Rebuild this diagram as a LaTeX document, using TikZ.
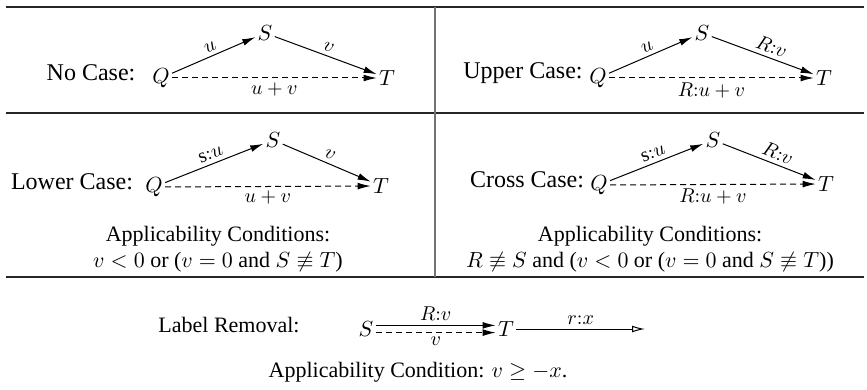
\documentclass[tikz,border=0pt]{standalone}
\usepackage{fontspec}
\setmainfont{Liberation Serif}
\usetikzlibrary{arrows.meta}
\begin{document}
\begin{tikzpicture}[x=0.5pt,y=-0.5pt,
  font=\fontsize{11}{13}\selectfont,
  gridline/.style={line width=0.8pt, draw=black!85},
  vgrid/.style={line width=1pt, draw=black!55},
  vtx/.style={inner sep=1pt},
  arr/.style={-{Latex[length=6.5pt,width=3.4pt]}, line width=0.5pt},
  dsh/.style={arr, dash pattern=on 3pt off 2pt},
  openarr/.style={-{Latex[open,length=6.5pt,width=3.4pt]}, line width=0.5pt},
  lbl/.style={font=\fontsize{10}{11}\selectfont, inner sep=2pt},
  casetxt/.style={inner sep=0pt, font=\fontsize{12}{14}\selectfont}]
\useasboundingbox (0,0) rectangle (867,390);
% grid
\draw[gridline] (6,7) -- (864,7);
\draw[gridline] (6,113) -- (864,113);
\draw[gridline] (6,277) -- (864,277);
\draw[vgrid] (435,7) -- (435,277);

% No Case
\node[casetxt] (nc) at (91,73) {No Case:};
\node[vtx] (Q1) at (161,78) {$Q$};
\node[vtx] (S1) at (265,33) {$S$};
\node[vtx] (T1) at (387,78) {$T$};
\draw[arr] (Q1) -- node[lbl,sloped,above]{$u$} (S1);
\draw[arr] (S1) -- node[lbl,sloped,above]{$v$} (T1);
\draw[dsh] (Q1) -- node[lbl,below]{$u+v$} (T1);

% Upper Case
\node[casetxt] (uc) at (523,73) {Upper Case:};
\node[vtx] (Q2) at (598,78) {$Q$};
\node[vtx] (S2) at (702,33) {$S$};
\node[vtx] (T2) at (824,78) {$T$};
\draw[arr] (Q2) -- node[lbl,sloped,above]{$u$} (S2);
\draw[arr] (S2) -- node[lbl,sloped,above,pos=0.55]{$R{:}v$} (T2);
\draw[dsh] (Q2) -- node[lbl,below]{$R{:}u+v$} (T2);

% Lower Case
\node[casetxt] (lc) at (72,182) {Lower Case:};
\node[vtx] (Q3) at (154,187) {$Q$};
\node[vtx] (S3) at (273,140) {$S$};
\node[vtx] (T3) at (381,186) {$T$};
\draw[arr] (Q3) -- node[lbl,sloped,above]{$\mathrm{s}{:}u$} (S3);
\draw[arr] (S3) -- node[lbl,sloped,above]{$v$} (T3);
\draw[dsh] (Q3) -- node[lbl,below]{$u+v$} (T3);
\node (ac1) at (218,236) {Applicability Conditions:};
\node (cd1) at (218,262) {$v<0$ or ($v=0$ and $S\not\equiv T$)};

% Cross Case
\node[casetxt] (cc) at (527,180) {Cross Case:};
\node[vtx] (Q4) at (599,185) {$Q$};
\node[vtx] (S4) at (713,140) {$S$};
\node[vtx] (T4) at (826,184) {$T$};
\draw[arr] (Q4) -- node[lbl,sloped,above]{$\mathrm{s}{:}u$} (S4);
\draw[arr] (S4) -- node[lbl,sloped,above,pos=0.55]{$R{:}v$} (T4);
\draw[dsh] (Q4) -- node[lbl,below]{$R{:}u+v$} (T4);
\node (ac2) at (650,236) {Applicability Conditions:};
\node (cd2) at (650,262) {$R\not\equiv S$ and ($v<0$ or ($v=0$ and $S\not\equiv T$))};

% Label Removal
\node[casetxt,font=\fontsize{11}{13}\selectfont] (lr) at (229,325) {Label Removal:};
\node[vtx] (S5) at (366,329) {$S$};
\node[vtx] (T5) at (506,329) {$T$};
\coordinate (E5) at (645,329);
\draw[arr] ([yshift=1.8pt]S5.east) -- node[lbl,above]{$R{:}v$} ([yshift=1.8pt]T5.west);
\draw[dsh] ([yshift=-1.8pt]S5.east) -- node[lbl,below]{$v$} ([yshift=-1.8pt]T5.west);
\draw[openarr] (T5.east) -- node[lbl,above]{$r{:}x$} (E5);
\node (ac3) at (418,372) {Applicability Condition: $v\geq -x$.};
\end{tikzpicture}
\end{document}
